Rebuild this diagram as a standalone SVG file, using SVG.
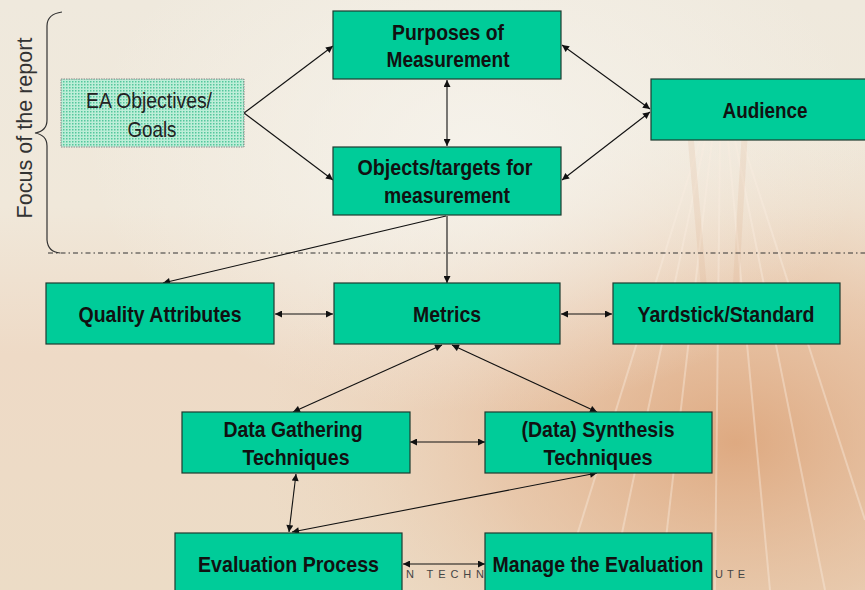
<svg xmlns="http://www.w3.org/2000/svg" width="865" height="590" viewBox="0 0 865 590">
<defs>
<linearGradient id="bg" x1="0" y1="0" x2="0" y2="1">
<stop offset="0" stop-color="#efe9dd"/>
<stop offset="0.35" stop-color="#f0e8da"/>
<stop offset="0.6" stop-color="#eedac6"/>
<stop offset="1" stop-color="#ecdcc6"/>
</linearGradient>
<radialGradient id="glow" cx="0.85" cy="0.75" r="0.55">
<stop offset="0" stop-color="#d9996a" stop-opacity="0.75"/>
<stop offset="0.5" stop-color="#e2b08a" stop-opacity="0.45"/>
<stop offset="1" stop-color="#ecd2b8" stop-opacity="0"/>
</radialGradient>
<radialGradient id="sky" cx="0.55" cy="0.25" r="0.45">
<stop offset="0" stop-color="#f6f3ec" stop-opacity="0.9"/>
<stop offset="1" stop-color="#f6f3ec" stop-opacity="0"/>
</radialGradient>
<pattern id="dots" width="3" height="3" patternUnits="userSpaceOnUse">
<rect width="3" height="3" fill="#bdeed8"/>
<rect width="1.5" height="1.5" fill="#54c79c"/>
</pattern>
<marker id="ah" viewBox="0 0 10 10" refX="10" refY="5" markerWidth="8" markerHeight="7" markerUnits="userSpaceOnUse" orient="auto-start-reverse">
<path d="M0,0 L10,5 L0,10 z" fill="#111"/>
</marker>
<style>
.box{fill:#00cc99;stroke:#1d3b30;stroke-width:1.2}
.t{font-family:"Liberation Sans",Arial,sans-serif;font-weight:bold;font-size:22px;fill:#111;text-anchor:middle}
.r{font-family:"Liberation Sans",Arial,sans-serif;font-size:22px;fill:#222;text-anchor:middle}
.c{fill:none;stroke:#111;stroke-width:1.1}
.ar{marker-end:url(#ah)}
.bi{marker-start:url(#ah);marker-end:url(#ah)}
</style>
</defs>

<g id="background">
<rect width="865" height="590" fill="url(#bg)"/>
<rect width="865" height="590" fill="url(#glow)"/>
<rect width="865" height="590" fill="url(#sky)"/>
<g stroke="#fbeee0" stroke-opacity="0.4" stroke-width="2" fill="none">
<path d="M700,140 L560,590"/>
<path d="M705,140 L610,590"/>
<path d="M712,140 L660,590"/>
<path d="M720,140 L715,590"/>
<path d="M728,140 L770,590"/>
<path d="M735,140 L825,590"/>
<path d="M742,140 L865,520"/>
</g>
<path d="M690,130 L705,300 M745,130 L735,300" stroke="#d8a47c" stroke-opacity="0.15" stroke-width="6" fill="none"/>
</g>

<g id="footer" font-family="'Liberation Sans',Arial,sans-serif" font-size="11" fill="#444">
<text x="406" y="578" textLength="78" lengthAdjust="spacing">N TECHN</text>
<text x="715" y="578" textLength="30" lengthAdjust="spacing">UTE</text>
</g>

<g id="focus">
<path d="M62,12 Q47,14 47,26 L47,120 Q47,131 35,133 Q47,135 47,146 L47,240 Q48,252 60,253" fill="none" stroke="#333" stroke-width="1.2"/>
<text transform="translate(31.5,128) rotate(-90)" x="0" y="0" font-family="'Liberation Sans',Arial,sans-serif" font-size="22" fill="#333" text-anchor="middle" textLength="181" lengthAdjust="spacingAndGlyphs">Focus of the report</text>
<line x1="48" y1="253" x2="865" y2="253" stroke="#333" stroke-width="1" stroke-dasharray="5 3 1.5 3"/>
</g>

<g id="connectors">
<line class="c ar" x1="244" y1="113" x2="333" y2="46"/>
<line class="c ar" x1="244" y1="113" x2="333" y2="180"/>
<line class="c bi" x1="447" y1="80" x2="447" y2="146"/>
<line class="c bi" x1="562" y1="45" x2="650" y2="109"/>
<line class="c bi" x1="562" y1="180" x2="650" y2="112"/>
<line class="c ar" x1="446" y1="216" x2="163" y2="283"/>
<line class="c ar" x1="447" y1="216" x2="447" y2="283"/>
<line class="c bi" x1="275" y1="314" x2="333" y2="314"/>
<line class="c bi" x1="561" y1="314" x2="612" y2="314"/>
<line class="c bi" x1="293" y1="412" x2="442" y2="345"/>
<line class="c bi" x1="452" y1="345" x2="597" y2="412"/>
<line class="c bi" x1="410" y1="442" x2="485" y2="442"/>
<line class="c bi" x1="296" y1="474" x2="289" y2="532"/>
<line class="c bi" x1="597" y1="473" x2="292" y2="532"/>
<line class="c bi" x1="403" y1="564" x2="485" y2="564"/>
</g>

<g id="ea-objectives">
<rect x="61" y="79" width="183" height="68" fill="url(#dots)" stroke="#888" stroke-width="1" stroke-dasharray="1.5 1"/>
<text class="r" x="149" y="108" textLength="126" lengthAdjust="spacingAndGlyphs">EA Objectives/</text>
<text class="r" x="152" y="137" textLength="49" lengthAdjust="spacingAndGlyphs">Goals</text>
</g>

<g id="purposes">
<rect class="box" x="333" y="11" width="228" height="68"/>
<text class="t" x="448" y="39.5" textLength="112" lengthAdjust="spacingAndGlyphs">Purposes of</text>
<text class="t" x="448" y="67" textLength="123" lengthAdjust="spacingAndGlyphs">Measurement</text>
</g>

<g id="objects">
<rect class="box" x="333" y="147" width="228" height="68"/>
<text class="t" x="445" y="175" textLength="175" lengthAdjust="spacingAndGlyphs">Objects/targets for</text>
<text class="t" x="447" y="203" textLength="126" lengthAdjust="spacingAndGlyphs">measurement</text>
</g>

<g id="audience">
<rect class="box" x="651" y="79" width="220" height="61"/>
<text class="t" x="765" y="117.5" textLength="85" lengthAdjust="spacingAndGlyphs">Audience</text>
</g>

<g id="quality">
<rect class="box" x="46" y="283" width="228" height="61"/>
<text class="t" x="160" y="322" textLength="163" lengthAdjust="spacingAndGlyphs">Quality Attributes</text>
</g>

<g id="metrics">
<rect class="box" x="334" y="283" width="226" height="61"/>
<text class="t" x="447" y="322" textLength="68" lengthAdjust="spacingAndGlyphs">Metrics</text>
</g>

<g id="yardstick">
<rect class="box" x="613" y="283" width="227" height="61"/>
<text class="t" x="726" y="322" textLength="177" lengthAdjust="spacingAndGlyphs">Yardstick/Standard</text>
</g>

<g id="data-gathering">
<rect class="box" x="182" y="412" width="228" height="61"/>
<text class="t" x="293" y="437" textLength="139" lengthAdjust="spacingAndGlyphs">Data Gathering</text>
<text class="t" x="296" y="465" textLength="107" lengthAdjust="spacingAndGlyphs">Techniques</text>
</g>

<g id="synthesis">
<rect class="box" x="485" y="412" width="227" height="61"/>
<text class="t" x="598" y="437" textLength="153" lengthAdjust="spacingAndGlyphs">(Data) Synthesis</text>
<text class="t" x="598" y="465" textLength="109" lengthAdjust="spacingAndGlyphs">Techniques</text>
</g>

<g id="evaluation-process">
<rect class="box" x="175" y="533" width="227" height="62"/>
<text class="t" x="288.5" y="572" textLength="181" lengthAdjust="spacingAndGlyphs">Evaluation Process</text>
</g>

<g id="manage">
<rect class="box" x="485" y="533" width="227" height="62"/>
<text class="t" x="598" y="572" textLength="211" lengthAdjust="spacingAndGlyphs">Manage the Evaluation</text>
</g>
</svg>
